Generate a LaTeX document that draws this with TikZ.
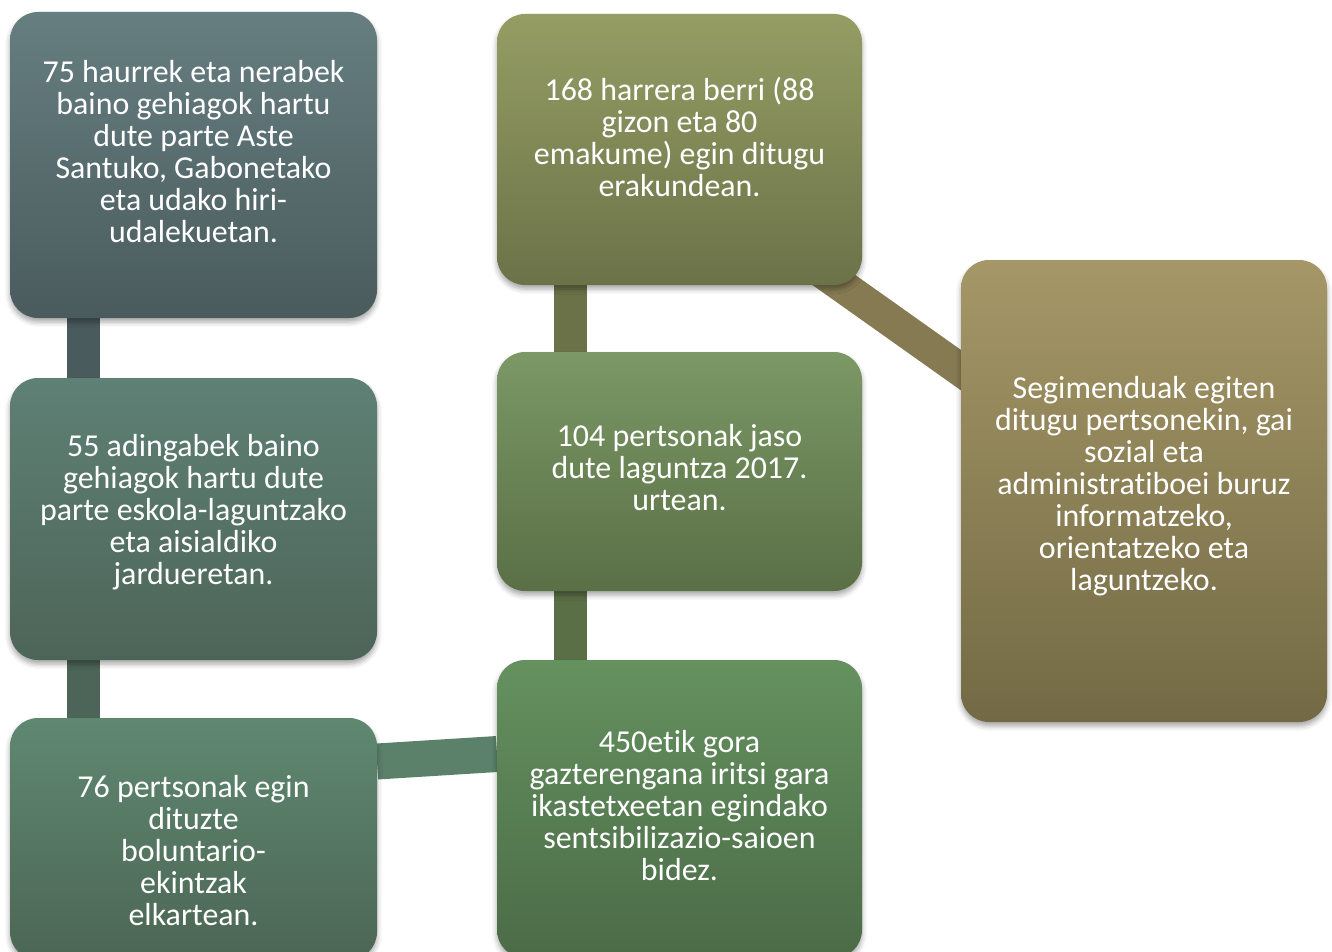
\documentclass[tikz,border=0pt]{standalone}
\usepackage{fontspec}
\setmainfont{Carlito}[Ligatures=NoCommon]
\usetikzlibrary{calc,backgrounds,shadows.blur}

\definecolor{boxAt}{HTML}{667E80}\definecolor{boxAb}{HTML}{4A5B5D}
\definecolor{boxBt}{HTML}{5F8075}\definecolor{boxBb}{HTML}{4D6558}
\definecolor{boxCt}{HTML}{5F8871}\definecolor{boxCb}{HTML}{4C6654}
\definecolor{boxDt}{HTML}{959D64}\definecolor{boxDb}{HTML}{6B7248}
\definecolor{boxEt}{HTML}{7B9865}\definecolor{boxEb}{HTML}{5A6F46}
\definecolor{boxFt}{HTML}{65915F}\definecolor{boxFb}{HTML}{4B6B47}
\definecolor{boxGt}{HTML}{A59767}\definecolor{boxGb}{HTML}{736A45}
\definecolor{connDG}{HTML}{857A52}

\begin{document}
\begin{tikzpicture}[x=1pt, y=-1pt, line join=round,
		box/.style 2 args={rounded corners=28pt, inner sep=0pt, outer sep=0pt, top color=#1, bottom color=#2,
			blur shadow={shadow xshift=0pt, shadow yshift=-4pt, shadow blur radius=5pt, shadow opacity=35}},
		txt/.style={text=white, align=center, inner sep=0pt, font=\fontsize{31.9}{32}\selectfont},
		conn/.style={line width=33pt, draw=#1}]
		\useasboundingbox (0,0) rectangle (1332,952);
		\clip (0,0) rectangle (1332,952);
		\def\wa{367pt} \def\wb{365pt}
		% left column
		\node[box={boxAt}{boxAb}, minimum width=\wa, minimum height=306pt] (b1) at (193.5,165) {};
		\node[box={boxBt}{boxBb}, minimum width=\wa, minimum height=282pt] (b2) at (193.5,519) {};
		\node[box={boxCt}{boxCb}, minimum width=\wa, minimum height=242pt] (b3) at (193.5,839) {};
		% middle column
		\node[box={boxDt}{boxDb}, minimum width=\wb, minimum height=271pt] (b4) at (679.5,149.5) {};
		\node[box={boxEt}{boxEb}, minimum width=\wb, minimum height=239pt] (b5) at (679.5,471.5) {};
		\node[box={boxFt}{boxFb}, minimum width=\wb, minimum height=298pt] (b6) at (679.5,809) {};
		% right
		\node[box={boxGt}{boxGb}, minimum width=366pt, minimum height=462pt] (b7) at (1144,491) {};

		\node[txt] (t1) at (193.5,152) {75 haurrek eta nerabek\\baino gehiagok hartu\\dute parte Aste\\Santuko, Gabonetako\\eta udako hiri-\\udalekuetan.};
		\node[txt] (t2) at (193.5,512) {55 adingabek baino\\gehiagok hartu dute\\parte eskola-laguntzako\\eta aisialdiko\\jardueretan.};
		\node[txt] (t3) at (193.5,851) {76 pertsonak egin\\dituzte\\boluntario-\\ekintzak\\elkartean.};
		\node[txt] (t4) at (679.5,137) {168 harrera berri (88\\gizon eta 80\\emakume) egin ditugu\\erakundean.};
		\node[txt] (t5) at (679.5,468) {104 pertsonak jaso\\dute laguntza 2017.\\urtean.};
		\node[txt] (t6) at (679.5,806) {450etik gora\\gazterengana iritsi gara\\ikastetxeetan egindako\\sentsibilizazio-saioen\\bidez.};
		\node[txt] (t7) at (1144,486) {Segimenduak egiten\\ditugu pertsonekin, gai\\sozial eta\\administratiboei buruz\\informatzeko,\\orientatzeko eta\\laguntzeko.};

		\begin{pgfonlayer}{background}
			\draw[conn=boxAb] ($(b1.south west)!.2!(b1.south east)$) -- ($(b2.north west)!.2!(b2.north east)$);
			\draw[conn=boxBb] ($(b2.south west)!.2!(b2.south east)$) -- ($(b3.north west)!.2!(b3.north east)$);
			\draw[conn=boxDb] ($(b4.south west)!.2!(b4.south east)$) -- ($(b5.north west)!.2!(b5.north east)$);
			\draw[conn=boxEb] ($(b5.south west)!.2!(b5.south east)$) -- ($(b6.north west)!.2!(b6.north east)$);
			\draw[conn=connDG] ([yshift=-21pt]b4.center) -- ([yshift=-9pt]b7.center);
			\draw[conn=boxCt!80!boxCb, line width=36pt] ([yshift=77.5pt]b3.east) -- ([yshift=55pt]b6.west);
		\end{pgfonlayer}
	\end{tikzpicture}
\end{document}
